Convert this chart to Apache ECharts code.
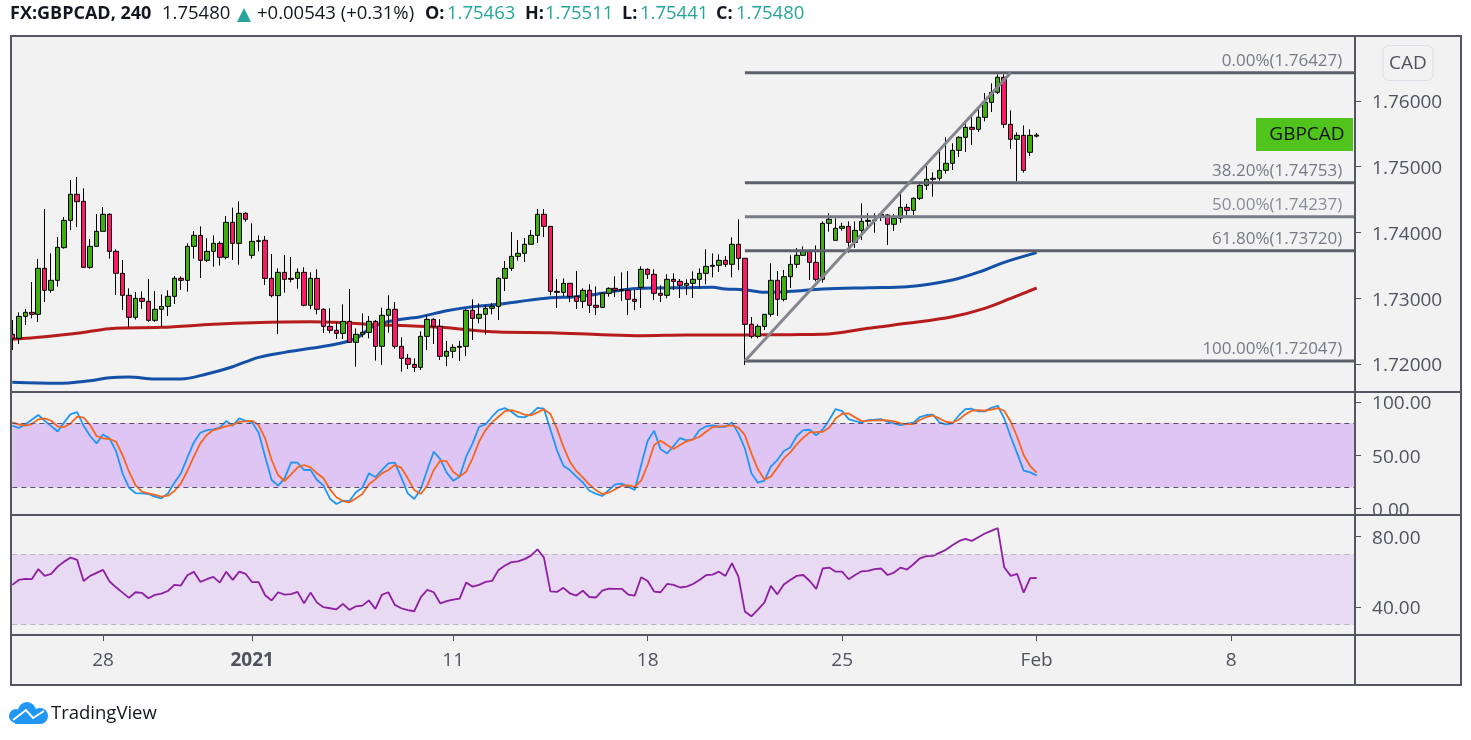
<!DOCTYPE html>
<html><head><meta charset="utf-8">
<style>html,body{margin:0;padding:0;background:#fff}#c{width:1471px;height:740px}</style>
<script src="https://cdn.jsdelivr.net/npm/echarts@6/dist/echarts.min.js"></script>
</head><body><div id="c"></div>
<script>
const tickIndex=[14,37,68,98,128,158,188];
const tickLabels=['28','2021','11','18','25','Feb','8'];
const opens=[1.72451,1.72390,1.72724,1.72785,1.72755,1.73454,1.73120,1.73272,1.73768,1.74183,
1.74579,1.74472,1.73469,1.73788,1.74016,1.74275,1.73712,1.73378,1.73044,1.72709,
1.72998,1.72952,1.72664,1.72831,1.72876,1.73028,1.73302,1.73272,1.73788,1.73955,
1.73576,1.73712,1.73834,1.73621,1.74153,1.73834,1.74290,1.73652,1.73864,1.73880,
1.73302,1.73039,1.73393,1.73302,1.73302,1.73393,1.72892,1.73302,1.72831,1.72572,
1.72512,1.72466,1.72648,1.72329,1.72451,1.72481,1.72648,1.72268,1.72740,1.72831,
1.72268,1.72086,1.71995,1.71949,1.72420,1.72679,1.72572,1.72117,1.72193,1.72253,
1.72268,1.72816,1.72694,1.72755,1.72846,1.72876,1.73302,1.73454,1.73636,1.73682,
1.73819,1.73955,1.74275,1.74092,1.73104,1.73089,1.73226,1.73028,1.72952,1.73120,
1.72892,1.72861,1.73074,1.73150,1.73115,1.73120,1.72983,1.73165,1.73439,1.73363,
1.73074,1.73044,1.73287,1.73256,1.73196,1.73226,1.73287,1.73378,1.73484,1.73500,
1.73576,1.73515,1.73819,1.73606,1.72603,1.72420,1.72572,1.72755,1.73272,1.72983,
1.73327,1.73515,1.73652,1.73712,1.73545,1.73287,1.74138,1.73880,1.74062,1.74092,
1.73849,1.74031,1.74168,1.74178,1.74275,1.74265,1.74123,1.74214,1.74381,1.74335,
1.74518,1.74715,1.74807,1.74822,1.74943,1.75050,1.75247,1.75445,1.75597,1.75566,
1.75749,1.75977,1.76129,1.76357,1.75642,1.75415,1.75475,1.75217,1.75463];
const closes=[1.72390,1.72724,1.72785,1.72755,1.73454,1.73120,1.73272,1.73773,1.74183,1.74579,
1.74467,1.73469,1.73788,1.74016,1.74275,1.73712,1.73378,1.73044,1.72709,1.72998,
1.72952,1.72664,1.72831,1.72876,1.73028,1.73302,1.73272,1.73788,1.73955,1.73576,
1.73712,1.73834,1.73621,1.74153,1.73834,1.74290,1.74199,1.73864,1.73874,1.73302,
1.73039,1.73393,1.73287,1.73287,1.73393,1.72892,1.73302,1.72831,1.72572,1.72512,
1.72466,1.72648,1.72329,1.72451,1.72481,1.72648,1.72268,1.72740,1.72831,1.72268,
1.72086,1.71995,1.71949,1.72420,1.72679,1.72572,1.72117,1.72193,1.72253,1.72268,
1.72816,1.72694,1.72755,1.72846,1.72876,1.73302,1.73454,1.73636,1.73682,1.73819,
1.73955,1.74275,1.74092,1.73104,1.73089,1.73226,1.73028,1.72952,1.73120,1.72892,
1.72861,1.73074,1.73150,1.73120,1.73130,1.72983,1.72952,1.73439,1.73363,1.73074,
1.73044,1.73287,1.73256,1.73196,1.73226,1.73287,1.73378,1.73484,1.73500,1.73576,
1.73515,1.73819,1.73606,1.72603,1.72420,1.72572,1.72755,1.73272,1.72983,1.73327,
1.73515,1.73652,1.73712,1.73545,1.73287,1.74138,1.74199,1.74062,1.74092,1.73849,
1.74031,1.74168,1.74183,1.74189,1.74259,1.74123,1.74214,1.74381,1.74335,1.74518,
1.74715,1.74807,1.74822,1.74943,1.75050,1.75247,1.75445,1.75597,1.75566,1.75749,
1.75977,1.76129,1.76357,1.75642,1.75415,1.75475,1.74943,1.75475,1.75480];
const lows=[1.72213,1.72304,1.72593,1.72694,1.72638,1.72942,1.73084,1.73175,1.73753,1.74037,
1.74082,1.73464,1.73449,1.73788,1.74016,1.73601,1.73049,1.72821,1.72567,1.72674,
1.72836,1.72643,1.72643,1.72567,1.72730,1.72912,1.73125,1.73099,1.73601,1.73307,
1.73550,1.73479,1.73494,1.73591,1.73581,1.73510,1.74163,1.73601,1.73712,1.73201,
1.73013,1.72456,1.73084,1.73241,1.73145,1.72876,1.72831,1.72755,1.72471,1.72466,
1.72380,1.72380,1.72329,1.71959,1.72405,1.72390,1.72051,1.71985,1.72476,1.72233,
1.71883,1.71924,1.71878,1.71909,1.72213,1.72304,1.72061,1.71970,1.72091,1.72046,
1.72122,1.72365,1.72618,1.72446,1.72755,1.72669,1.73109,1.73413,1.73570,1.73550,
1.73819,1.73839,1.73930,1.73044,1.72851,1.73033,1.72942,1.72836,1.72851,1.72775,
1.72745,1.72856,1.73023,1.73018,1.72957,1.72745,1.72821,1.72851,1.73292,1.72973,
1.72942,1.72998,1.73125,1.73003,1.73049,1.73003,1.73150,1.73211,1.73317,1.73398,
1.73474,1.73317,1.73429,1.71985,1.72390,1.72390,1.72517,1.72719,1.72730,1.72952,
1.73155,1.73459,1.73647,1.73277,1.73256,1.73236,1.74011,1.73874,1.74026,1.73692,
1.73763,1.73885,1.74037,1.73996,1.74173,1.73809,1.74021,1.74148,1.74265,1.74265,
1.74492,1.74644,1.74543,1.74786,1.74893,1.74948,1.75146,1.75222,1.75328,1.75526,
1.75688,1.75830,1.76103,1.75587,1.75268,1.74781,1.74908,1.75161,1.75441];
const highs=[1.72669,1.72785,1.72836,1.73246,1.73596,1.74356,1.73682,1.73930,1.74234,1.74796,
1.74842,1.74670,1.73900,1.74280,1.74386,1.74290,1.73743,1.73581,1.73150,1.73094,
1.73104,1.73292,1.73109,1.73059,1.73120,1.73337,1.73332,1.73834,1.74021,1.74092,
1.73910,1.73955,1.73864,1.74249,1.74376,1.74472,1.74305,1.74138,1.73955,1.73945,
1.73672,1.73454,1.73657,1.73626,1.73454,1.73469,1.73393,1.73439,1.72846,1.72846,
1.72633,1.72907,1.73140,1.72542,1.72770,1.72730,1.72669,1.72856,1.73044,1.72942,
1.72405,1.72152,1.72086,1.72496,1.72740,1.72694,1.72679,1.72350,1.72299,1.72350,
1.72831,1.72983,1.72922,1.72892,1.72922,1.73317,1.73565,1.74006,1.73885,1.73915,
1.74037,1.74356,1.74356,1.74092,1.73292,1.73302,1.73226,1.73413,1.73150,1.73211,
1.73180,1.73089,1.73165,1.73332,1.73393,1.73413,1.73125,1.73484,1.73454,1.73439,
1.73196,1.73363,1.73378,1.73292,1.73287,1.73408,1.73454,1.73743,1.73682,1.73667,
1.73641,1.73925,1.74199,1.73606,1.72714,1.72603,1.72755,1.73530,1.73413,1.73429,
1.73652,1.73763,1.73788,1.73733,1.73803,1.74168,1.74290,1.74214,1.74148,1.74168,
1.74168,1.74442,1.74290,1.74290,1.74290,1.74280,1.74280,1.74604,1.74432,1.74533,
1.74731,1.75024,1.74913,1.75262,1.75445,1.75354,1.75460,1.75673,1.75764,1.75886,
1.76119,1.76266,1.76402,1.76402,1.75855,1.75521,1.75627,1.75566,1.75511];
const maBlueIdx=[0,7,12,15,18,22,26,30,34,38,42,46,50,53,56,60,63,67,71,75,78,83,87,91,95,99,104,108,110,113,116,120,125,132,138,145,150,153,158];
const maBlueVal=[1.71721,1.71706,1.71747,1.71792,1.71802,1.71772,1.71772,1.71848,1.71959,1.72101,1.72177,1.72238,1.72304,1.72390,1.72590,1.72679,1.72719,1.72810,1.72871,1.72907,1.72947,1.73008,1.73023,1.73074,1.73135,1.73155,1.73160,1.73165,1.73140,1.73130,1.73089,1.73104,1.73140,1.73160,1.73175,1.73277,1.73429,1.73545,1.73692];
const maRedIdx=[0,5,10,15,23,31,37,46,51,55,59,66,75,83,91,97,104,113,120,125,132,138,145,150,154,158];
const maRedVal=[1.72375,1.72415,1.72466,1.72537,1.72557,1.72603,1.72628,1.72643,1.72628,1.72603,1.72588,1.72557,1.72486,1.72476,1.72446,1.72431,1.72441,1.72441,1.72446,1.72451,1.72542,1.72618,1.72719,1.72846,1.72998,1.73155];
const stochK=[77.8,75.6,79.0,83.4,87.8,82.4,77.4,72.4,80.9,88.7,
90.6,77.8,68.1,61.2,69.6,65.9,54.0,33.1,19.6,14.6,
14.3,13.7,11.2,9.6,14.3,24.3,33.1,47.8,62.1,71.2,
73.7,74.3,75.9,82.1,77.8,84.6,82.4,80.9,71.2,48.7,
26.8,21.5,28.4,43.4,43.1,36.2,36.2,26.8,21.5,9.3,
4.3,7.4,7.1,15.3,19.6,33.1,29.6,36.2,42.4,43.1,
29.3,14.3,9.0,18.4,36.2,53.4,46.5,33.7,26.2,30.0,
48.7,61.2,76.8,79.0,86.2,92.4,94.3,90.9,86.2,85.6,
88.7,94.6,93.7,74.3,54.9,40.3,36.2,30.0,24.6,16.8,
14.0,11.8,17.4,22.8,23.4,20.6,17.4,40.9,63.7,73.1,
55.6,51.8,58.7,66.2,64.0,65.0,73.7,77.1,78.1,76.8,
76.8,80.9,70.6,56.5,33.1,24.3,26.2,39.3,45.6,54.0,
57.4,68.1,73.7,74.0,68.7,74.3,83.1,93.4,91.5,84.0,
82.1,80.6,83.1,83.4,84.0,81.5,79.9,78.4,79.6,80.6,
85.9,87.8,88.1,80.9,79.0,79.9,87.4,93.4,93.7,91.2,
91.2,94.6,96.5,84.6,67.4,51.8,35.6,34.0,31.2];
const stochD=[80.9,79.0,77.8,79.3,83.7,84.6,82.4,77.1,76.5,79.9,
86.2,85.3,78.4,68.1,65.9,65.3,62.8,50.3,34.6,22.1,
15.9,14.3,12.8,11.2,12.1,16.5,23.7,35.3,48.7,61.2,
69.0,73.7,75.3,77.4,78.4,81.5,81.8,82.4,78.4,65.9,
45.6,31.5,25.9,32.1,38.7,40.9,38.7,33.1,28.4,18.1,
10.6,7.1,5.9,9.6,13.7,22.8,27.4,33.1,36.2,40.9,
38.4,28.4,17.4,13.7,21.5,36.2,45.0,44.3,34.6,30.0,
34.6,47.1,62.8,73.7,80.9,86.2,91.5,92.4,90.6,88.1,
87.4,90.3,93.1,88.7,75.3,58.1,44.0,35.3,29.3,22.8,
17.4,13.7,14.9,18.1,21.5,21.8,20.3,26.2,40.9,59.6,
63.7,59.6,55.9,59.6,63.1,65.0,67.4,72.1,76.5,77.1,
77.4,78.1,75.9,69.0,51.8,37.1,27.4,30.0,38.4,47.1,
52.8,60.3,66.5,71.5,71.8,72.1,75.9,84.6,89.0,89.3,
85.6,82.1,82.4,82.8,83.1,82.8,81.8,79.9,79.3,79.3,
83.1,85.9,87.4,84.6,81.5,80.6,83.4,88.4,91.8,92.4,
91.8,92.8,94.3,91.8,81.5,67.4,50.3,39.9,33.7];
const rsi=[52.6,55.4,56.0,55.8,61.5,57.7,58.8,63.0,65.8,68.1,
66.8,54.8,57.7,59.4,61.1,54.5,51.2,48.2,45.2,48.4,
48.0,45.0,46.9,47.6,49.1,52.6,52.2,58.1,60.0,54.3,
55.8,57.1,53.9,60.0,55.4,60.1,58.8,54.1,54.1,46.7,
43.7,48.4,47.1,47.3,48.6,42.1,48.2,42.5,39.9,39.3,
38.7,41.8,38.4,40.4,40.8,43.8,38.9,46.9,48.4,41.2,
39.3,38.2,37.6,45.5,49.7,48.4,42.1,43.3,44.2,44.8,
53.9,51.6,52.6,54.3,54.8,61.1,63.6,65.5,66.0,67.2,
69.2,72.8,68.1,48.9,48.6,50.9,47.8,46.5,49.3,45.7,
45.4,49.3,50.5,50.3,50.3,47.1,46.5,56.9,54.8,48.8,
48.4,53.1,52.6,51.1,51.6,53.1,55.4,58.1,58.4,60.1,
57.7,64.9,57.3,37.4,34.7,38.5,42.5,52.0,47.2,52.8,
55.4,57.7,58.2,54.8,50.3,61.9,62.4,60.1,60.1,55.8,
58.2,60.3,60.5,61.5,61.9,58.2,59.6,62.4,61.3,64.3,
67.7,68.9,69.1,70.8,72.5,75.1,77.4,78.7,77.6,79.7,
81.8,83.3,84.8,62.6,57.7,58.8,48.2,56.4,56.5];
const fibLevels=[1.76427,1.74753,1.74237,1.73720,1.72047];
const fibNames=['0.00%','38.20%','50.00%','61.80%','100.00%'];
const priceTicks=[1.72,1.73,1.74,1.75,1.76];
const stochTicks=[0,50,100];
const rsiTicks=[40,80];

const FONT='"Open Sans",sans-serif';
const N=208, LAST=207, START=113, TREND_END=154;
const categories=Array.from({length:N},(_,i)=>{const k=tickIndex.indexOf(i);return k<0?'':tickLabels[k];});
const isTick=i=>tickIndex.includes(i);
const grids=[
 {left:9.06,width:1348.5,top:36,height:356},
 {left:9.06,width:1348.5,top:392,height:123},
 {left:9.06,width:1348.5,top:515,height:120}
];
const hiddenX=g=>({type:'category',gridIndex:g,data:categories,show:false});
const yAx=(g,min,max,ticks,dec)=>({type:'value',gridIndex:g,position:'right',offset:-2.5,min,max,scale:true,
 splitLine:{show:false},axisLine:{show:false},
 axisTick:{show:true,length:6,lineStyle:{color:'#50535e',width:1},customValues:ticks},
 axisLabel:{show:true,margin:17,color:'#50535e',fontSize:19,fontFamily:FONT,customValues:ticks,showMinLabel:true,showMaxLabel:true,
  rich:{a:{color:'#50535e',fontSize:19,fontFamily:FONT,padding:[4,0,0,0]}},
  formatter:v=>'{a|'+v.toFixed(dec)+'}'}});
const sparse=(ix,vals)=>ix.map((x,i)=>[x,vals[i]]);
const maLine=(name,ix,vals,color)=>({name,type:'line',xAxisIndex:0,yAxisIndex:0,data:sparse(ix,vals),smooth:0.35,showSymbol:false,symbol:'none',
 lineStyle:{color,width:3},z:2});
const fibSeries=fibLevels.map((v,i)=>({name:'fib'+fibNames[i],type:'line',xAxisIndex:0,yAxisIndex:0,symbol:'none',showSymbol:false,
 lineStyle:{color:i===2?'#787b86':'#5d606b',width:3},z:4,
 endLabel:{show:true,distance:0,align:'right',verticalAlign:'bottom',offset:[-12,-3],
  color:i===2?'#8a8d97':'#787b86',fontSize:17,fontFamily:FONT,formatter:fibNames[i]+'('+v.toFixed(5)+')'},
 data:[[START,v],[LAST,v]]}));
const band=(hi,lo,fill,dash)=>({
 markArea:{silent:true,itemStyle:{color:fill},label:{show:false},data:[[{xAxis:0,yAxis:hi},{xAxis:LAST,yAxis:lo}]]},
 markLine:{silent:true,symbol:'none',label:{show:false},lineStyle:{color:dash,width:1.2,type:[5,4]},
  data:[[{xAxis:0,yAxis:hi},{xAxis:LAST,yAxis:hi}],[{xAxis:0,yAxis:lo},{xAxis:LAST,yAxis:lo}]]}
});
const headerText=(x,t,color,bold)=>({type:'text',x,y:14,z:20,silent:true,style:{text:t,fill:color,font:(bold?'bold 18px ':'18.5px ')+FONT,verticalAlign:'middle'}});
const TEAL='#26a69a', INK='#131722', LOGO='#2196f3';
const vline=(x,y1,y2)=>({type:'line',z:30,silent:true,shape:{x1:x,y1,x2:x,y2},style:{stroke:'#555760',lineWidth:2}});
const hline=(y,x1,x2)=>({type:'line',z:30,silent:true,shape:{x1,y1:y,x2,y2:y},style:{stroke:'#555760',lineWidth:2}});

const option={
 animation:false,backgroundColor:'#ffffff',
 grid:grids,
 xAxis:[hiddenX(0),hiddenX(1),{type:'category',gridIndex:2,data:categories,position:'bottom',
   axisLine:{show:false},
   axisTick:{show:true,alignWithLabel:true,length:6,interval:i=>isTick(i),lineStyle:{color:'#50535e',width:1}},
   axisLabel:{show:true,interval:i=>isTick(i),margin:16,hideOverlap:false,color:'#50535e',fontSize:19,fontFamily:FONT,
    formatter:v=>v==='2021'?'{b|2021}':v,rich:{b:{fontWeight:'bold',fontSize:19,fontFamily:FONT,color:'#50535e'}}}}],
 yAxis:[yAx(0,1.715745,1.769848,priceTicks,5),yAx(1,-6,109.4,stochTicks,2),yAx(2,24.1,92.3,rsiTicks,2)],
 series:[
  maLine('MA100',maBlueIdx,maBlueVal,'#1450a8'),
  maLine('MA200',maRedIdx,maRedVal,'#b71c1c'),
  {name:'GBPCAD',type:'candlestick',xAxisIndex:0,yAxisIndex:0,barWidth:5,z:3,
   data:opens.map((o,i)=>[o,closes[i],lows[i],highs[i]]),
   itemStyle:{color:'#3fae0f',color0:'#fb1a6a',borderColor:'#000',borderColor0:'#000',borderWidth:1}},
  ...fibSeries,
  {name:'trend',type:'line',xAxisIndex:0,yAxisIndex:0,symbol:'none',showSymbol:false,z:5,
   lineStyle:{color:'#84868f',width:3},data:[[START,fibLevels[4]],[TREND_END,fibLevels[0]]]},
  Object.assign({name:'%K',type:'line',xAxisIndex:1,yAxisIndex:1,data:stochK,symbol:'none',showSymbol:false,z:3,lineStyle:{color:'#2196f3',width:1.8}},band(80,20,'#dfc5f3','#5d4f6b')),
  {name:'%D',type:'line',xAxisIndex:1,yAxisIndex:1,data:stochD,symbol:'none',showSymbol:false,z:4,lineStyle:{color:'#f4661e',width:1.8}},
  Object.assign({name:'RSI',type:'line',xAxisIndex:2,yAxisIndex:2,data:rsi,symbol:'none',showSymbol:false,z:3,lineStyle:{color:'#8e1fa3',width:1.8}},band(70,30,'#e8daf3','#b9b3bd'))
 ],
 graphic:{elements:[
  {type:'rect',z:-10,silent:true,shape:{x:10,y:35,width:1451,height:650},style:{fill:'#f2f2f2'}},
  vline(11,35,685),vline(1461,35,685),hline(36,10,1462),hline(685,10,1462),vline(1355,36,685),
  hline(392,11,1461),hline(515,11,1461),hline(635,11,1461),
  headerText(10,'FX:GBPCAD, 240',INK,true),
  headerText(162,'1.75480',INK,false),
  {type:'polygon',z:20,silent:true,shape:{points:[[237,22],[251,22],[244,8]]},style:{fill:TEAL}},
  headerText(257,'+0.00543 (+0.31%)',INK,false),
  headerText(425,'O:',INK,true),headerText(447,'1.75463',TEAL,false),
  headerText(525,'H:',INK,true),headerText(545,'1.75511',TEAL,false),
  headerText(622,'L:',INK,true),headerText(640,'1.75441',TEAL,false),
  headerText(716,'C:',INK,true),headerText(736,'1.75480',TEAL,false),
  {type:'rect',z:20,silent:true,shape:{x:1383,y:45.5,width:50,height:35,r:6},style:{fill:'#f2f2f2',stroke:'#dcdce6',lineWidth:1}},
  {type:'text',z:21,silent:true,x:1408,y:64,style:{text:'CAD',fill:'#50535e',font:'19px '+FONT,align:'center',verticalAlign:'middle'}},
  {type:'rect',z:20,silent:true,shape:{x:1256,y:118,width:97,height:33},style:{fill:'#50c41c'}},
  {type:'text',z:21,silent:true,x:1307,y:134.5,style:{text:'GBPCAD',fill:'#111',font:'19px '+FONT,align:'center',verticalAlign:'middle'}},
  {type:'circle',z:20,silent:true,shape:{cx:16,cy:716,r:7},style:{fill:LOGO}},
  {type:'circle',z:20,silent:true,shape:{cx:27,cy:711,r:9},style:{fill:LOGO}},
  {type:'circle',z:20,silent:true,shape:{cx:40,cy:716,r:8},style:{fill:LOGO}},
  {type:'rect',z:20,silent:true,shape:{x:15,y:714,width:26,height:10},style:{fill:LOGO}},
  {type:'polyline',z:21,silent:true,shape:{points:[[13,720],[26,710],[33,718],[44,711]]},style:{stroke:'#fff',lineWidth:2,fill:null}},
  {type:'text',z:21,silent:true,x:51,y:714,style:{text:'TradingView',fill:INK,font:'18.5px '+FONT,verticalAlign:'middle'}}
 ]}
};
const chart=echarts.init(document.getElementById('c'),null,{renderer:'canvas'});
chart.setOption(option);
</script>
</body></html>
